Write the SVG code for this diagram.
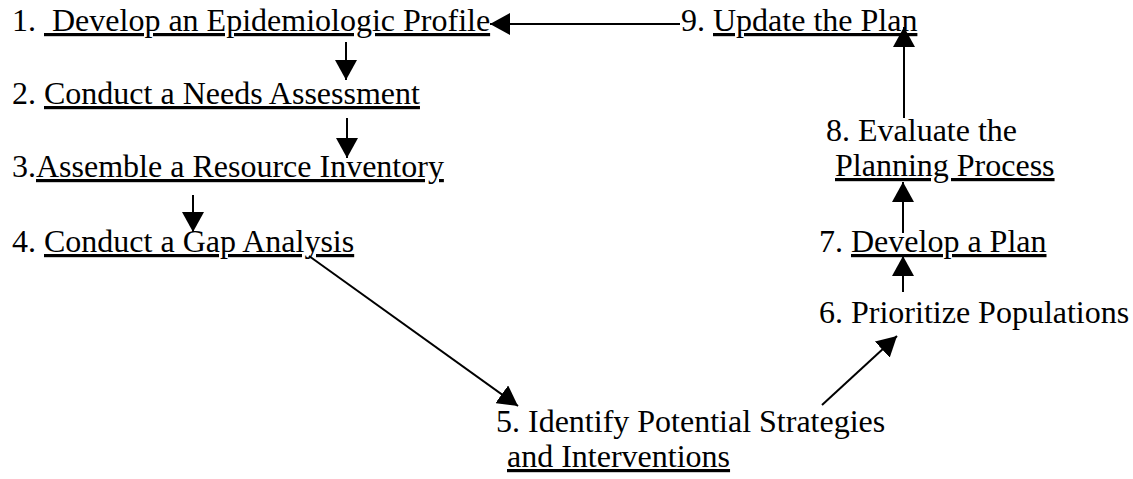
<svg xmlns="http://www.w3.org/2000/svg" width="1133" height="479" viewBox="0 0 1133 479">
<style>
text{font-family:"Liberation Serif","Times New Roman",serif;font-size:32px;fill:#000;white-space:pre}
.u{text-decoration:underline}
.c line{stroke:#000;stroke-width:2;marker-end:url(#ah)}
</style>
<defs>
<marker id="ah" markerUnits="userSpaceOnUse" viewBox="0 0 20 22" refX="20" refY="11" markerWidth="20" markerHeight="22" orient="auto">
<path d="M0,0 L20,11 L0,22 Z" fill="#000"/>
</marker>
</defs>
<rect width="1133" height="479" fill="#fff"/>
<g id="n1"><text x="12" y="31" xml:space="preserve">1. <tspan class="u"> Develop an Epidemiologic Profile</tspan></text></g>
<g id="n2"><text x="12" y="104" xml:space="preserve">2. <tspan class="u">Conduct a Needs Assessment</tspan></text></g>
<g id="n3"><text x="12" y="177" xml:space="preserve">3.<tspan class="u">Assemble a Resource Inventory</tspan></text></g>
<g id="n4"><text x="12" y="252" xml:space="preserve">4. <tspan class="u">Conduct a Gap Analysis</tspan></text></g>
<g id="n5"><text x="496" y="432">5. Identify Potential Strategies</text><text x="507" y="467" class="u">and Interventions</text></g>
<g id="n6"><text x="819" y="323">6. Prioritize Populations</text></g>
<g id="n7"><text x="819" y="252" xml:space="preserve">7. <tspan class="u">Develop a Plan</tspan></text></g>
<g id="n8"><text x="826" y="141">8. Evaluate the</text><text x="835" y="176" class="u">Planning Process</text></g>
<g id="n9"><text x="681" y="31" xml:space="preserve">9. <tspan class="u">Update the Plan</tspan></text></g>
<g id="connectors" class="c">
<line x1="680" y1="24" x2="490" y2="24"/>
<line x1="346" y1="42" x2="346" y2="80"/>
<line x1="347" y1="118" x2="347" y2="158"/>
<line x1="193" y1="195" x2="193" y2="232"/>
<line x1="309" y1="256" x2="518" y2="406"/>
<line x1="822" y1="405" x2="897" y2="336"/>
<line x1="903" y1="292" x2="903" y2="256"/>
<line x1="903" y1="233" x2="903" y2="182"/>
<line x1="904" y1="118" x2="904" y2="27"/>
</g>
</svg>
